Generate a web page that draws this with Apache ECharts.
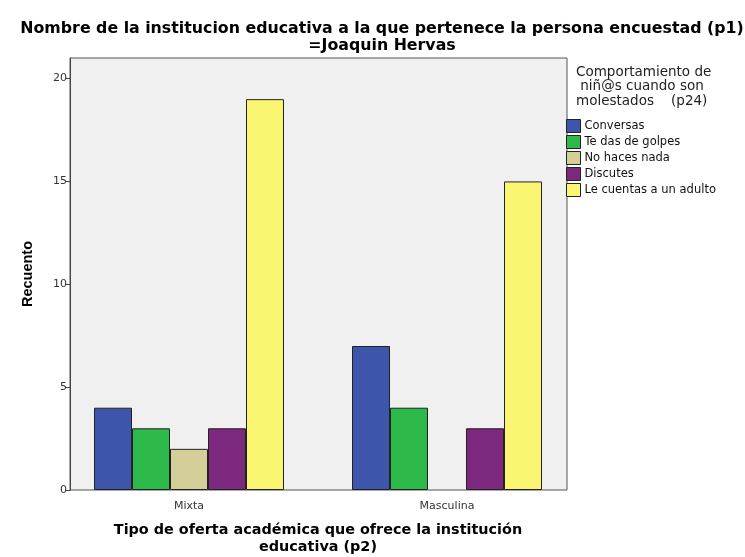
<!DOCTYPE html>
<html><head><meta charset="utf-8">
<script src="https://cdn.jsdelivr.net/npm/echarts@6/dist/echarts.min.js"></script>
<style>html,body{margin:0;padding:0;background:#fff}#c{width:745px;height:557px}</style>
</head><body><div id="c"></div>
<script>
const categories = ['Mixta', 'Masculina'];
const seriesNames = ['Conversas', 'Te das de golpes', 'No haces nada', 'Discutes', 'Le cuentas a un adulto'];
const conversas = [4, 7];
const teDasDeGolpes = [3, 4];
const noHacesNada = [2, 0];
const discutes = [3, 3];
const leCuentas = [19, 15];
const yTicks = [0, 5, 10, 15, 20];
const colors = ['#3D56AB', '#2DB84A', '#D4CF98', '#7C287E', '#FAF672'];
const values = [conversas, teDasDeGolpes, noHacesNada, discutes, leCuentas];

const Y_MAX = 21;
const chart = echarts.init(document.getElementById('c'), null, {renderer: 'canvas'});
chart.setOption({
  animation: false,
  title: [
    {text: 'Nombre de la institucion educativa a la que pertenece la persona encuestad (p1)\n=Joaquin Hervas',
     left: 377, top: 16, textAlign: 'center',
     textStyle: {fontFamily: 'DejaVu Sans', fontWeight: 'bold', fontSize: 15.8, lineHeight: 16.5, color: '#000'}},
    {text: 'Comportamiento de\n niñ@s cuando son\nmolestados    (p24)',
     left: 571, top: 60,
     textStyle: {fontFamily: 'DejaVu Sans', fontWeight: 'normal', fontSize: 13.5, lineHeight: 14.5, color: '#222'}}
  ],
  legend: {
    orient: 'vertical', left: 566, top: 119, padding: 0,
    itemWidth: 14, itemHeight: 13, itemGap: 2,
    icon: 'rect',
    itemStyle: {borderColor: '#222', borderWidth: 1},
    textStyle: {fontFamily: 'DejaVu Sans', fontSize: 11.5, color: '#111', padding: [0,0,0,-1]},
    data: seriesNames
  },
  grid: [
    {left: 70, right: 178, top: 58, bottom: 67, show: true, backgroundColor: '#F0F0F0', borderColor: '#555', borderWidth: 1, outerBoundsMode: 'none', containLabel: false},
    {left: 60, right: 169, top: 58, bottom: 67, show: false, outerBoundsMode: 'none', containLabel: false}
  ],
  xAxis: [
    {gridIndex: 0, type: 'category', data: categories, show: false},
    {gridIndex: 1, type: 'category', data: categories,
     name: 'Tipo de oferta académica que ofrece la institución\neducativa (p2)',
     nameLocation: 'middle', nameGap: 32,
     nameTextStyle: {fontFamily: 'DejaVu Sans', fontWeight: 'bold', fontSize: 14.4, lineHeight: 17, color: '#000'},
     axisLine: {show: false},
     axisTick: {alignWithLabel: true, length: 5, lineStyle: {color: '#444'}},
     axisLabel: {fontFamily: 'DejaVu Sans', fontSize: 11, color: '#333', margin: 11}}
  ],
  yAxis: [
    {gridIndex: 0, type: 'value', min: 0, max: Y_MAX, interval: 5,
     name: 'Recuento', nameLocation: 'middle', nameGap: 35,
     nameTextStyle: {fontFamily: 'Liberation Sans', fontWeight: 'bold', fontSize: 14.5, color: '#000'},
     axisLine: {show: true, lineStyle: {color: '#444'}},
     axisTick: {show: true, length: 5, lineStyle: {color: '#444'}, customValues: yTicks},
     splitLine: {show: false},
     axisLabel: {fontFamily: 'DejaVu Sans', fontSize: 11, color: '#333', margin: 3, customValues: yTicks}},
    {gridIndex: 1, type: 'value', min: 0, max: Y_MAX, show: false, splitLine: {show: false}}
  ],
  series: seriesNames.map((n, i) => ({
    name: n, type: 'bar', xAxisIndex: 1, yAxisIndex: 1,
    data: values[i].map(v => v === 0 ? null : v),
    barGap: '0%', barWidth: 38,
    itemStyle: {color: colors[i], borderColor: '#222', borderWidth: 1}
  }))
});
</script></body></html>
